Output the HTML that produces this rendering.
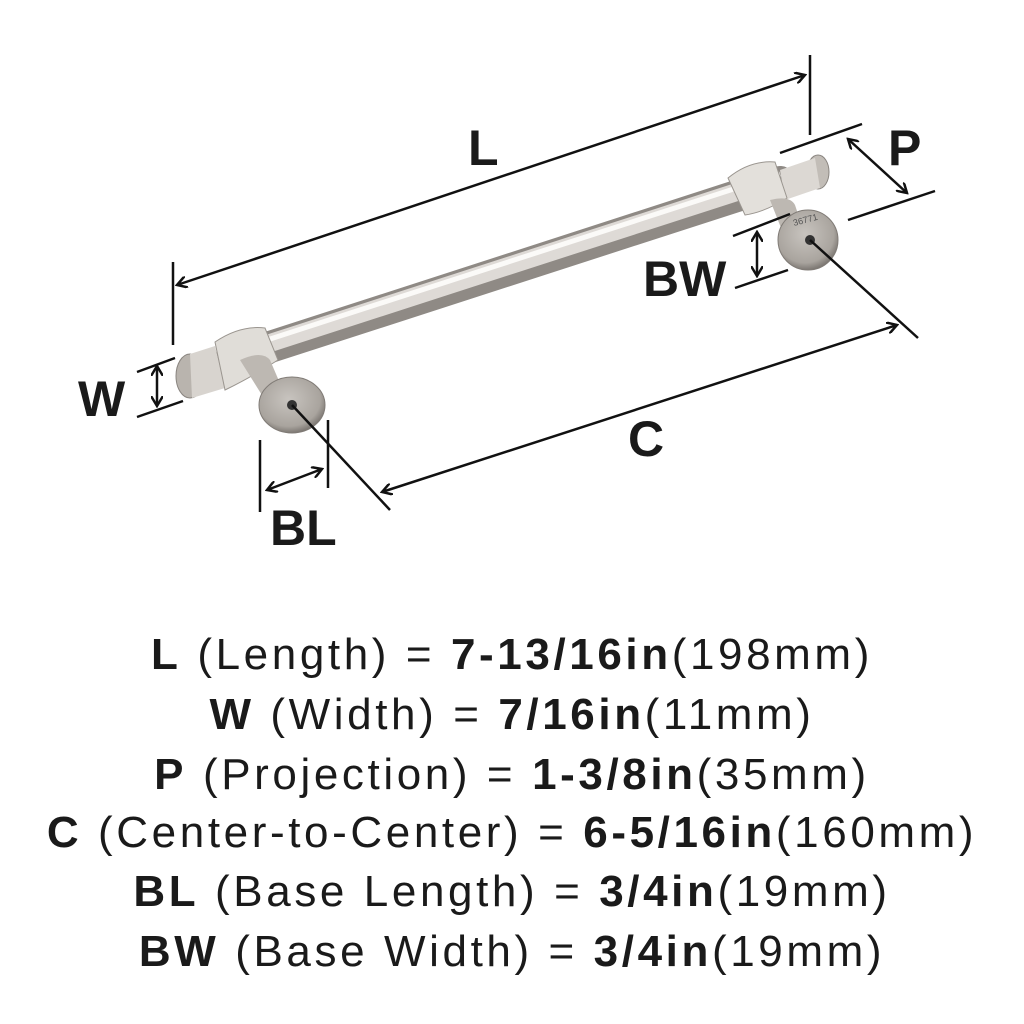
<!DOCTYPE html>
<html><head><meta charset="utf-8"><style>
html,body{margin:0;padding:0;background:#fff;}
body{width:1024px;height:1024px;position:relative;overflow:hidden;font-family:"Liberation Sans",sans-serif;}
.t{position:absolute;left:0;width:1024px;text-align:center;font-size:44px;color:#1a1a1a;letter-spacing:3.6px;white-space:nowrap;}
.t b{font-weight:bold;}
</style></head><body>
<svg width="1024" height="600" style="position:absolute;left:0;top:0">
<defs>
<radialGradient id="disc" cx="0.45" cy="0.4" r="0.6"><stop offset="0" stop-color="#c8c4bf"/><stop offset="0.8" stop-color="#a9a49e"/><stop offset="1" stop-color="#7d7873"/></radialGradient>
<marker id="a" markerWidth="12" markerHeight="12" refX="10" refY="6" orient="auto-start-reverse" markerUnits="userSpaceOnUse"><path d="M0,0 L10,6 L0,12" fill="none" stroke="#111" stroke-width="2.5"/></marker>
</defs>
<g>
<line x1="230" y1="360" x2="780" y2="182" stroke="#8f8a85" stroke-width="32" stroke-linecap="round"/>
<line x1="230" y1="356" x2="780" y2="178" stroke="#dedad6" stroke-width="18"/>
<line x1="230" y1="352" x2="780" y2="174" stroke="#fbfaf8" stroke-width="5"/>
<ellipse cx="190" cy="376" rx="14" ry="22" fill="#b9b4ae" stroke="#8a8580"/>
<path d="M190,354 L215,346 L225,388 L192,398 Z" fill="#d8d4cf"/>
<path d="M215,342 Q240,325 265,328 L278,360 Q250,378 225,390 Z" fill="#e0ddd8" stroke="#9a958f"/>
<path d="M240,360 Q262,350 270,360 L285,395 L265,400 Z" fill="#bdb8b2"/>
<ellipse cx="292" cy="405" rx="33" ry="28" fill="url(#disc)" stroke="#807b76"/>
<circle cx="292" cy="405" r="5" fill="#333"/>
<ellipse cx="818" cy="172" rx="11" ry="17" fill="#c2bdb7" stroke="#8a8580"/>
<path d="M780,170 L815,158 L820,188 L785,200 Z" fill="#dcd8d3"/>
<path d="M728,178 Q750,160 775,162 L787,198 Q765,212 745,215 Z" fill="#e3e0db" stroke="#9a958f"/>
<path d="M770,200 Q790,195 795,205 L805,235 L785,238 Z" fill="#bdb8b2"/>
<ellipse cx="808" cy="240" rx="30" ry="30" fill="url(#disc)" stroke="#807b76"/>
<circle cx="810" cy="240" r="5" fill="#333"/>
<text x="794" y="226" font-size="9" fill="#555" transform="rotate(-15 794 226)">36771</text>
</g>
<g stroke="#111" stroke-width="2.5" fill="none">
<line x1="173" y1="262" x2="173" y2="345"/>
<line x1="810" y1="55" x2="810" y2="135"/>
<line x1="177" y1="285" x2="805" y2="75" marker-start="url(#a)" marker-end="url(#a)"/>
<line x1="137" y1="372" x2="175" y2="358"/>
<line x1="137" y1="417" x2="183" y2="401"/>
<line x1="157" y1="366" x2="157" y2="406" marker-start="url(#a)" marker-end="url(#a)"/>
<line x1="260" y1="440" x2="260" y2="512"/>
<line x1="328" y1="420" x2="328" y2="488"/>
<line x1="267" y1="490" x2="322" y2="469" marker-start="url(#a)" marker-end="url(#a)"/>
<line x1="292" y1="405" x2="390" y2="510"/>
<line x1="810" y1="240" x2="918" y2="338"/>
<line x1="382" y1="492" x2="897" y2="325" marker-start="url(#a)" marker-end="url(#a)"/>
<line x1="780" y1="153" x2="862" y2="124"/>
<line x1="848" y1="220" x2="935" y2="191"/>
<line x1="848" y1="139" x2="907" y2="193" marker-start="url(#a)" marker-end="url(#a)"/>
<line x1="733" y1="236" x2="790" y2="214"/>
<line x1="735" y1="288" x2="788" y2="270"/>
<line x1="757" y1="232" x2="757" y2="276" marker-start="url(#a)" marker-end="url(#a)"/>
</g>
<g font-family="Liberation Sans,sans-serif" font-weight="bold" font-size="50" fill="#1a1a1a">
<text x="468" y="165">L</text>
<text x="78" y="416">W</text>
<text x="270" y="545">BL</text>
<text x="628" y="456">C</text>
<text x="888" y="165">P</text>
<text x="643" y="296">BW</text>
</g>
</svg>
<div class="t" style="top:630px"><b>L</b> (Length) = <b>7-13/16in</b>(198mm)</div>
<div class="t" style="top:690px"><b>W</b> (Width) = <b>7/16in</b>(11mm)</div>
<div class="t" style="top:750px"><b>P</b> (Projection) = <b>1-3/8in</b>(35mm)</div>
<div class="t" style="top:808px"><b>C</b> (Center-to-Center) = <b>6-5/16in</b>(160mm)</div>
<div class="t" style="top:867px"><b>BL</b> (Base Length) = <b>3/4in</b>(19mm)</div>
<div class="t" style="top:927px"><b>BW</b> (Base Width) = <b>3/4in</b>(19mm)</div>
</body></html>
